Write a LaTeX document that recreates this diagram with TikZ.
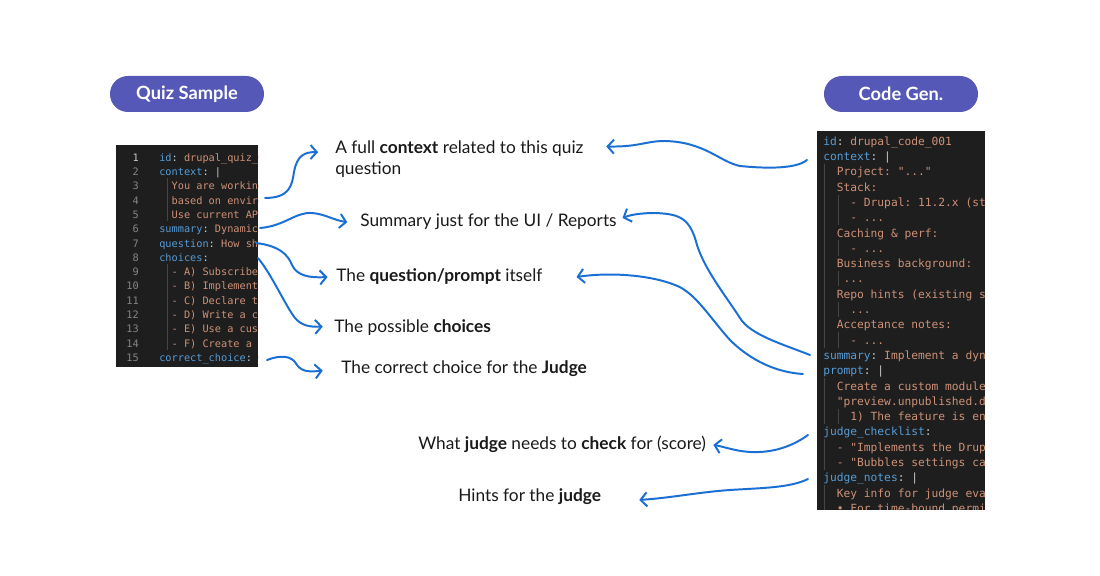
\documentclass[tikz,border=0pt]{standalone}
\usepackage{fontspec}
\setmainfont{Lato}
\setmonofont{DejaVu Sans Mono}
\usetikzlibrary{arrows.meta}
\definecolor{pill}{HTML}{5558B6}
\definecolor{panel}{HTML}{1E1E1E}
\definecolor{keyc}{HTML}{569CD6}
\definecolor{valc}{HTML}{CE9178}
\definecolor{punc}{HTML}{CCCCCC}
\definecolor{numc}{HTML}{858585}
\definecolor{guide}{HTML}{454545}
\definecolor{ink}{HTML}{1A6FD4}
\definecolor{txt}{HTML}{1A1A1A}
\newcommand\ykey[1]{\textcolor{keyc}{#1}\textcolor{punc}{:}}
\tikzset{
  codeq/.style={anchor=west, inner sep=0pt, text=valc, text height=1.6ex, text depth=0.4ex,
    font=\fontsize{7.3}{8}\ttfamily},
  coder/.style={codeq, font=\fontsize{8}{9}\ttfamily},
  numq/.style={anchor=east, inner sep=0pt, text=numc, text height=1.6ex, text depth=0.4ex,
    font=\fontsize{7.3}{8}\ttfamily},
  note/.style={anchor=base west, inner sep=0pt, text=txt, align=left,
    font=\fontsize{12.3}{15.6}\selectfont},
  pillbox/.style={fill=pill, text=white, font=\fontsize{13}{15}\selectfont\bfseries,
    rounded corners=0.45cm, minimum width=3.85cm, minimum height=0.9cm},
  hand/.style={draw=ink, line width=1.4pt, line cap=round,
    -{Straight Barb[length=4.5pt,width=10pt,line width=1.4pt]}},
  indent/.style={draw=guide, line width=0.6pt},
}
\begin{document}
\begin{tikzpicture}[x=0.025cm,y=-0.025cm]
  \fill[white] (0,0) rectangle (1100,576);
  \useasboundingbox (0,0) rectangle (1100,576);

  % headers
  \node[pillbox] (quiz) at (187,94) {Quiz Sample};
  \node[pillbox] (gen) at (901,94) {Code Gen.};

  % quiz sample panel
  \fill[panel] (116,145) rectangle (258,367);
  \draw[indent] (167,157+1.5*14.29) -- (167,157+4.5*14.29);
  \draw[indent] (167,157+7.5*14.29) -- (167,157+13.5*14.29);
  \node[numq, text=punc] at (139,157) {1};
  \foreach \n in {2,...,15}
    \node[numq] at (139,{157+(\n-1)*14.29}) {\n};
  \begin{scope}
    \clip (116,145) rectangle (258,367);
    \foreach \n/\c in {1/{\ykey{id} drupal\_quiz\_001},
        2/{\ykey{context} \textcolor{punc}{|}},
        3/{\hphantom{xx}You are working on a site},
        4/{\hphantom{xx}based on environment},
        5/{\hphantom{xx}Use current APIs},
        6/{\ykey{summary} Dynamic access},
        7/{\ykey{question} How should},
        8/{\ykey{choices}},
        9/{\hphantom{xx}- A) Subscribe to},
        10/{\hphantom{xx}- B) Implement a},
        11/{\hphantom{xx}- C) Declare the},
        12/{\hphantom{xx}- D) Write a custom},
        13/{\hphantom{xx}- E) Use a custom},
        14/{\hphantom{xx}- F) Create a new},
        15/{\ykey{correct\_choice} C}}
      \node[codeq] (q\n) at (159,{157+(\n-1)*14.29}) {\c};
  \end{scope}

  % code gen panel
  \fill[panel] (817,131) rectangle (985,510);
  \draw[indent] (824,141+1.5*15.3) -- (824,141+13.5*15.3);
  \draw[indent] (838,141+3.5*15.3) -- (838,141+5.5*15.3);
  \draw[indent] (838,141+6.5*15.3) -- (838,141+7.5*15.3);
  \draw[indent] (838,141+8.5*15.3) -- (838,141+9.5*15.3);
  \draw[indent] (838,141+10.5*15.3) -- (838,141+11.5*15.3);
  \draw[indent] (838,141+12.5*15.3) -- (838,141+13.5*15.3);
  \draw[indent] (824,141+15.5*15.3) -- (824,141+18.5*15.3);
  \draw[indent] (838,141+17.5*15.3) -- (838,141+18.5*15.3);
  \draw[indent] (824,141+19.5*15.3) -- (824,141+21.5*15.3);
  \draw[indent] (824,141+22.5*15.3) -- (824,510);
  \begin{scope}
    \clip (817,131) rectangle (985,510);
    \foreach \n/\c in {1/{\ykey{id} drupal\_code\_001},
        2/{\ykey{context} \textcolor{punc}{|}},
        3/{\hphantom{xx}Project: "..."},
        4/{\hphantom{xx}Stack:},
        5/{\hphantom{xxxx}- Drupal: 11.2.x (stable)},
        6/{\hphantom{xxxx}- ...},
        7/{\hphantom{xx}Caching \& perf:},
        8/{\hphantom{xxxx}- ...},
        9/{\hphantom{xx}Business background:},
        10/{\hphantom{xxx}...},
        11/{\hphantom{xx}Repo hints (existing services)},
        12/{\hphantom{xxxx}...},
        13/{\hphantom{xx}Acceptance notes:},
        14/{\hphantom{xxxx}- ...},
        15/{\ykey{summary} Implement a dynamic},
        16/{\ykey{prompt} \textcolor{punc}{|}},
        17/{\hphantom{xx}Create a custom module},
        18/{\hphantom{xx}"preview.unpublished.drafts"},
        19/{\hphantom{xxxx}1) The feature is enabled},
        20/{\ykey{judge\_checklist}},
        21/{\hphantom{xx}- "Implements the Drupal},
        22/{\hphantom{xx}- "Bubbles settings cache},
        23/{\ykey{judge\_notes} \textcolor{punc}{|}},
        24/{\hphantom{xx}Key info for judge evaluation},
        25/{\hphantom{xx}• For time-bound permissions}}
      \node[coder] (r\n) at (823,{141+(\n-1)*15.3}) {\c};
  \end{scope}

  % labels
  \node[note] (lctx) at (335,175) {A full \textbf{context} related to this quiz\\question};
  \node[note] (lsum) at (360,227) {Summary just for the UI / Reports};
  \node[note] (lque) at (336,282) {The \textbf{question/prompt} itself};
  \node[note] (lcho) at (334,333) {The possible \textbf{choices}};
  \node[note] (lcor) at (341,374) {The correct choice for the \textbf{Judge}};
  \node[note] (lchk) at (418,450) {What \textbf{judge} needs to \textbf{check} for (score)};
  \node[note] (lhin) at (458,502) {Hints for the \textbf{judge}};

  % arrow starts
  \coordinate (qa) at (265,198);
  \coordinate (qb) at (260,228);
  \coordinate (qc) at (256,243);
  \coordinate (qd) at (258,258);
  \coordinate (qe) at (267,360);
  \coordinate (ra) at (807,160);
  \coordinate (rb) at (810,355);
  \coordinate (rc) at (803,374);
  \coordinate (rd) at (808,435);
  \coordinate (re) at (808,479);

  % quiz side
  \draw[hand] (qa) .. controls (290,198) and (292,185) .. (294,172)
    .. controls (297,155) and (305,152) .. ([xshift=-12pt,yshift=5pt]lctx.west);
  \draw[hand] (qb) .. controls (285,226) and (295,212) .. (312,213)
    .. controls (325,214) and (333,220) .. ([xshift=-9pt]lsum.west);
  \draw[hand] (qc) .. controls (280,246) and (288,255) .. (292,265)
    .. controls (297,276) and (310,278) .. ([xshift=-6pt]lque.west);
  \draw[hand] (qd) .. controls (272,275) and (285,305) .. (295,318)
    .. controls (302,326) and (310,327) .. ([xshift=-8pt,yshift=1pt]lcho.west);
  \draw[hand] (qe) .. controls (280,355) and (292,355) .. (297,365)
    .. controls (302,372) and (310,372) .. ([xshift=-13pt,yshift=-1pt]lcor.west);

  % code gen side
  \draw[hand] (ra) .. controls (795,170) and (760,168) .. (740,166)
    .. controls (720,162) and (705,142) .. (665,141)
    .. controls (645,141) and (640,147) .. ([xshift=16pt,yshift=9pt]lctx.east);
  \draw[hand] (rb) .. controls (785,345) and (750,335) .. (740,318)
    .. controls (725,295) and (705,270) .. (697,245)
    .. controls (690,218) and (680,214) .. (655,213)
    .. controls (640,213) and (630,215) .. ([xshift=4pt,yshift=3pt]lsum.east);
  \draw[hand] (rc) .. controls (770,372) and (745,355) .. (730,340)
    .. controls (710,318) and (695,292) .. (675,285)
    .. controls (650,275) and (610,272) .. ([xshift=24pt]lque.east);
  \draw[hand] (rd) .. controls (790,448) and (770,453) .. (750,452)
    .. controls (735,451) and (725,447) .. ([xshift=5pt]lchk.east);
  \draw[hand] (re) .. controls (790,488) and (760,488) .. (730,490)
    .. controls (700,492) and (670,498) .. ([xshift=27pt,yshift=-2pt]lhin.east);
\end{tikzpicture}
\end{document}
